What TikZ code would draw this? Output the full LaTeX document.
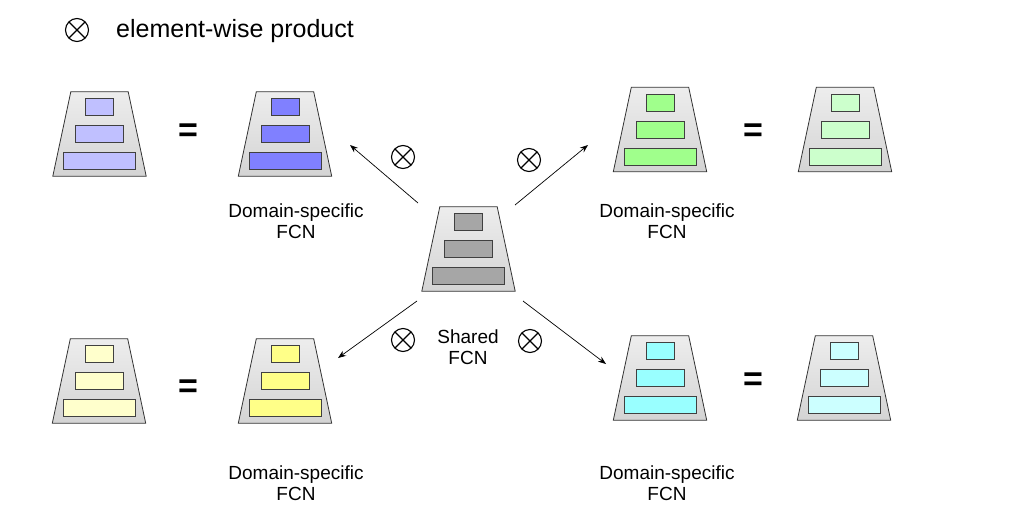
\documentclass[tikz,border=0pt]{standalone}
\usepackage{fontspec}
\setmainfont{Liberation Sans}
\usepackage{tikz}
\usetikzlibrary{arrows.meta}

\definecolor{blueL}{RGB}{192,192,255}
\definecolor{blueD}{RGB}{128,128,255}
\definecolor{greenD}{RGB}{160,255,140}
\definecolor{greenL}{RGB}{204,255,204}
\definecolor{yellowD}{RGB}{255,255,136}
\definecolor{yellowL}{RGB}{255,255,204}
\definecolor{cyanD}{RGB}{153,255,255}
\definecolor{cyanL}{RGB}{204,255,255}
\definecolor{grayS}{RGB}{166,166,166}

\tikzset{
  fcnframe/.style={rectangle, minimum width=93pt, minimum height=84pt, inner sep=0pt},
  fcnshape/.style={draw=black!80, line width=0.8pt, top color=black!7, bottom color=black!17},
  layer/.style={rectangle, draw=black!75, line width=0.9pt, minimum height=17pt, inner sep=0pt},
  otimes/.style={circle, draw, line width=1.1pt, minimum size=23pt, inner sep=0pt,
    path picture={\draw[line width=1.1pt]
      (path picture bounding box.north west) -- (path picture bounding box.south east)
      (path picture bounding box.north east) -- (path picture bounding box.south west);}},
  caption/.style={align=center, font=\fontsize{19}{21}\selectfont},
  equal/.style={font=\fontsize{34}{34}\selectfont\bfseries},
  flow/.style={-{Stealth[length=8pt,width=6pt]}, line width=0.7pt}
}

% one FCN: trapezoid with three layers
\newcommand{\fcn}[3]{%
  \node[fcnframe] (#1) at (#2) {};
  \draw[fcnshape] ([xshift=18pt]#1.north west) -- ([xshift=-18pt]#1.north east)
    -- (#1.south east) -- (#1.south west) -- cycle;
  \node[layer, fill=#3, minimum width=28pt] (#1-top) at ([yshift=27pt]#1.center) {};
  \node[layer, fill=#3, minimum width=48pt] (#1-mid) at (#1.center) {};
  \node[layer, fill=#3, minimum width=72pt] (#1-bot) at ([yshift=-27pt]#1.center) {};
}

\begin{document}
\begin{tikzpicture}[x=1pt, y=-1pt]
\useasboundingbox (0,0) rectangle (1022,530);

% legend
\node[otimes] (key) at (77,30) {};
\node[anchor=west, inner sep=0pt, font=\fontsize{25}{25}\selectfont] (keytext) at (116,31) {element-wise product};

% FCNs
\fcn{blueA}{99.5,134}{blueL}
\fcn{blueB}{285,134}{blueD}
\fcn{greenB}{660,129.5}{greenD}
\fcn{greenA}{845,129.5}{greenL}
\fcn{shared}{468.5,249}{grayS}
\fcn{yellowA}{99,381}{yellowL}
\fcn{yellowB}{285,381}{yellowD}
\fcn{cyanB}{660,378}{cyanD}
\fcn{cyanA}{844,378}{cyanL}

\node[equal] (eqA) at (188,133) {=};
\node[equal] (eqB) at (753,133) {=};
\node[equal] (eqC) at (188,389) {=};
\node[equal] (eqD) at (753,382) {=};

\node[caption] (capA) at (296,221) {Domain-specific\\FCN};
\node[caption] (capB) at (667,221) {Domain-specific\\FCN};
\node[caption] (capC) at (296,483) {Domain-specific\\FCN};
\node[caption] (capD) at (667,483) {Domain-specific\\FCN};
\node[caption] (capS) at (468,347) {Shared\\FCN};

% arrows out of the shared FCN
\coordinate (outA) at (418,203);
\coordinate (inA) at (350,145);
\coordinate (outB) at (515,205);
\coordinate (inB) at (588,145);
\coordinate (outC) at (417,301);
\coordinate (inC) at (338,358);
\coordinate (outD) at (523,301);
\coordinate (inD) at (606,364);
\draw[flow] (outA) -- (inA);
\draw[flow] (outB) -- (inB);
\draw[flow] (outC) -- (inC);
\draw[flow] (outD) -- (inD);

\node[otimes] (opA) at (403,157) {};
\node[otimes] (opB) at (529,160) {};
\node[otimes] (opC) at (403,340) {};
\node[otimes] (opD) at (530,341) {};
\end{tikzpicture}
\end{document}
